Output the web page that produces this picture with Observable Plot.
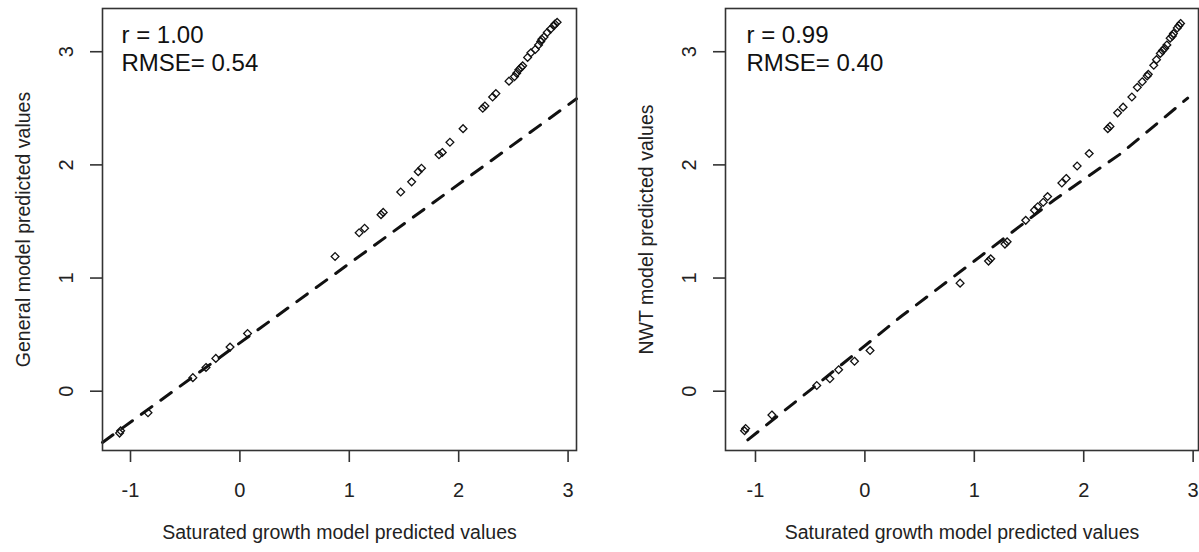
<!DOCTYPE html>
<html>
<head>
<meta charset="utf-8">
<script src="https://cdn.jsdelivr.net/npm/d3@7"></script>
<script src="https://cdn.jsdelivr.net/npm/@observablehq/plot@0.6"></script>
<style>
  body { margin: 0; background: #fff; }
  #wrap { position: relative; width: 1199px; height: 552px; overflow: hidden; background: #fff; }
  #left { position: absolute; left: 0; top: 0; }
  #right { position: absolute; left: 623px; top: 0; }
</style>
</head>
<body>
<div id="wrap"><div id="left"></div><div id="right"></div></div>
<script>
// ---- Data ----
const xTicks = [-1, 0, 1, 2, 3];
const yTicks = [0, 1, 2, 3];
const xTitle = "Saturated growth model predicted values";

// Left panel: General model vs Saturated growth model
const generalYTitle = "General model predicted values";
const generalR = "r = 1.00";
const generalRMSE = "RMSE= 0.54";
const generalSatX = [-1.10, -1.09, -0.84, -0.43, -0.31, -0.22, -0.09, 0.07, 0.87, 1.09, 1.14, 1.29, 1.31, 1.47, 1.57, 1.63, 1.66, 1.82, 1.85, 1.92, 2.04, 2.22, 2.24, 2.31, 2.34, 2.46, 2.51, 2.53, 2.55, 2.57, 2.585, 2.63, 2.66, 2.70, 2.73, 2.75, 2.76, 2.78, 2.81, 2.84, 2.87, 2.88, 2.90];
const generalPred = [-0.37, -0.35, -0.19, 0.12, 0.21, 0.29, 0.39, 0.51, 1.19, 1.40, 1.44, 1.56, 1.58, 1.76, 1.85, 1.94, 1.97, 2.09, 2.11, 2.20, 2.32, 2.50, 2.52, 2.60, 2.63, 2.74, 2.78, 2.81, 2.84, 2.86, 2.875, 2.95, 2.99, 3.02, 3.06, 3.09, 3.11, 3.13, 3.17, 3.20, 3.23, 3.245, 3.26];
const generalFitX = [-1.256, 3.077];
const generalFitY = [-0.453, 2.584];

// Right panel: NWT model vs Saturated growth model
const nwtYTitle = "NWT model predicted values";
const nwtR = "r = 0.99";
const nwtRMSE = "RMSE= 0.40";
const nwtSatX = [-1.10, -1.09, -0.85, -0.44, -0.32, -0.24, -0.095, 0.047, 0.87, 1.13, 1.15, 1.28, 1.30, 1.47, 1.55, 1.58, 1.63, 1.67, 1.80, 1.84, 1.94, 2.05, 2.22, 2.24, 2.31, 2.36, 2.44, 2.49, 2.535, 2.58, 2.59, 2.64, 2.665, 2.70, 2.72, 2.74, 2.76, 2.79, 2.81, 2.82, 2.855, 2.87, 2.885];
const nwtPred = [-0.35, -0.33, -0.21, 0.05, 0.11, 0.19, 0.265, 0.36, 0.955, 1.15, 1.17, 1.30, 1.32, 1.51, 1.60, 1.63, 1.67, 1.72, 1.84, 1.88, 1.99, 2.10, 2.32, 2.34, 2.46, 2.51, 2.60, 2.685, 2.735, 2.785, 2.80, 2.88, 2.93, 2.985, 3.01, 3.03, 3.06, 3.12, 3.14, 3.16, 3.21, 3.23, 3.25];
const nwtFitX = [-1.07, -0.5, 0.33, 1.0, 1.73, 2.34, 2.95];
const nwtFitY = [-0.43, 0.01, 0.66, 1.15, 1.69, 2.10, 2.59];

// ---- Drawing ----
const FONT = "'Liberation Sans', Arial, Helvetica, sans-serif";

function panel(o) {
  const pts = o.xs.map((x, i) => ({x, y: o.ys[i]}));
  const fit = o.fitX.map((x, i) => ({x, y: o.fitY[i]}));
  return Plot.plot({
    width: o.width,
    height: 552,
    marginTop: 8,
    marginBottom: 102,
    marginLeft: o.ml,
    marginRight: o.mr,
    style: {fontFamily: FONT, color: "#222", background: "transparent", overflow: "visible"},
    x: {domain: o.xDomain},
    y: {domain: o.yDomain},
    marks: [
      Plot.line(fit, {x: "x", y: "y", stroke: "#111", strokeWidth: 3, strokeDasharray: "13,11"}),
      Plot.dot(pts, {x: "x", y: "y", symbol: "diamond2", r: 3.5, stroke: "#111", strokeWidth: 1.3, fill: "none"}),
      Plot.frame({stroke: "#333", strokeWidth: 1.6}),
      Plot.axisX({ticks: xTicks, tickSize: 12, tickPadding: 20, fontSize: 20, label: null, tickFormat: d => String(d), stroke: "#333", strokeWidth: 1.6}),
      Plot.axisY({ticks: yTicks, tickSize: 12, tickPadding: 18, tickRotate: -90, fontSize: 20, label: null, tickFormat: d => String(d), stroke: "#333", strokeWidth: 1.6}),
      Plot.text([xTitle], {text: d => d, frameAnchor: "bottom", textAnchor: "middle", dy: 88, fontSize: 19.5, fill: "#222"}),
      Plot.text([o.yTitle], {text: d => d, frameAnchor: "left", textAnchor: "middle", lineAnchor: "middle", dx: -79, rotate: -90, fontSize: 19.5, fill: "#222"}),
      Plot.text([o.rText], {text: d => d, frameAnchor: "top-left", textAnchor: "start", lineAnchor: "top", dx: o.tdx, dy: 17, fontSize: 24, fill: "#111"}),
      Plot.text([o.rmseText], {text: d => d, frameAnchor: "top-left", textAnchor: "start", lineAnchor: "top", dx: o.tdx, dy: 45, fontSize: 24, fill: "#111"})
    ]
  });
}

document.getElementById("left").append(panel({
  width: 624, ml: 102, mr: 48,
  xDomain: [-1.256, 3.077], yDomain: [-0.524, 3.382],
  xs: generalSatX, ys: generalPred, fitX: generalFitX, fitY: generalFitY,
  yTitle: generalYTitle, rText: generalR, rmseText: generalRMSE, tdx: 19
}));

document.getElementById("right").append(panel({
  width: 575, ml: 102, mr: 0,
  xDomain: [-1.274, 3.049], yDomain: [-0.524, 3.382],
  xs: nwtSatX, ys: nwtPred, fitX: nwtFitX, fitY: nwtFitY,
  yTitle: nwtYTitle, rText: nwtR, rmseText: nwtRMSE, tdx: 21
}));
</script>
</body>
</html>
